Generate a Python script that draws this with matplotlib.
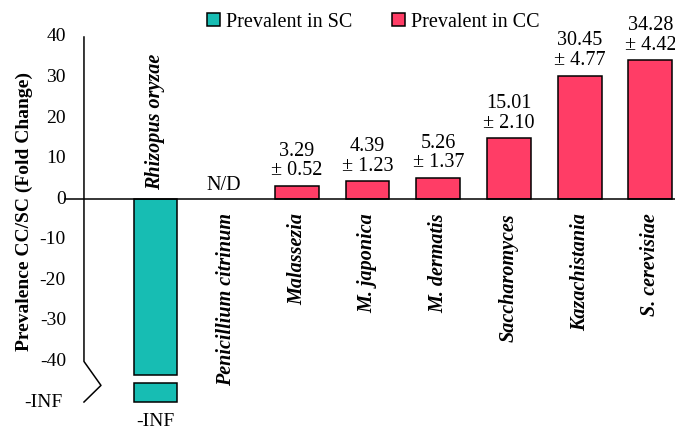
import numpy as np
import matplotlib
matplotlib.use("Agg")
import matplotlib.pyplot as plt
from matplotlib.patches import Patch
from matplotlib.lines import Line2D
import matplotlib.transforms as mtransforms

plt.rcParams['font.family'] = ['Liberation Serif', 'DejaVu Serif']

# Fold change of prevalence (CC/SC) per taxon
taxa = ["Rhizopus oryzae", "Penicillium citrinum", "Malassezia", "M. japonica",
        "M. dermatis", "Saccharomyces", "Kazachistania", "S. cerevisiae"]
fold_change = [-np.inf, np.nan, 3.29, 4.39, 5.26, 15.01, 30.45, 34.28]
fold_sd = [np.nan, np.nan, 0.52, 1.23, 1.37, 2.10, 4.77, 4.42]

ytick_values = [40, 30, 20, 10, 0, -10, -20, -30, -40]
neg_inf_label = "-INF"
legend_labels = ["Prevalent in SC", "Prevalent in CC"]

teal = "#17BDB3"
pink = "#FF3D66"

# Axis geometry: the -INF level sits below -40 behind an axis break
INF_POS = -50.0
BREAK_HI, BREAK_LO = -43.4, -45.4

fig = plt.figure(figsize=(6.75, 4.33), dpi=100)
ax = fig.add_axes([0.1244, 0.0247, 0.8756, 0.9367])
ax.set_xlim(-1.011, 7.348)
ax.set_ylim(-55, 45)
ax.axis("off")

x = np.arange(len(taxa))
width = 0.62
edge_kw = dict(edgecolor="black", linewidth=1.1)

for xi, v, sd in zip(x, fold_change, fold_sd):
    if np.isnan(v):
        ax.annotate("N/D", (xi, 0), xytext=(-2, 3), textcoords="offset points",
                    ha="center", va="bottom", fontsize=14.5)
        continue
    if np.isinf(v):
        # broken bar running down to the -INF level
        ax.bar(xi, BREAK_HI, width=width, color=teal, **edge_kw)
        ax.bar(xi, INF_POS - BREAK_LO, bottom=BREAK_LO, width=width, color=teal, **edge_kw)
        ax.annotate(neg_inf_label, (xi, INF_POS), xytext=(0, -8), textcoords="offset points",
                    ha="center", va="top", fontsize=14)
        continue
    ax.bar(xi, v, width=width, color=pink, **edge_kw)
    ax.annotate(f"{v:.2f}\n\u00b1 {sd:.2f}", (xi, v), xytext=(0, 4), textcoords="offset points",
                ha="center", va="bottom", fontsize=14.5, linespacing=1.05)

# category names: above the baseline for negative bars, below for the rest
for xi, name, v in zip(x, taxa, fold_change):
    if v < 0:
        ax.annotate(name, (xi, 0), xytext=(0, 7), textcoords="offset points", rotation=90,
                    ha="center", va="bottom", fontsize=14.5, fontweight="bold", style="italic")
    else:
        ax.annotate(name, (xi, 0), xytext=(0, -10), textcoords="offset points", rotation=90,
                    ha="center", va="top", fontsize=14.5, fontweight="bold", style="italic")

# zero baseline, reaching slightly left of the vertical axis
blend = mtransforms.blended_transform_factory(ax.transAxes, ax.transData)
ax.add_line(Line2D([-19 / 591, 1.0], [0, 0], transform=blend, color="black",
                   linewidth=1.1, clip_on=False))

# vertical axis with a zig-zag break down to -INF
zig = 17 / 591
ax.add_line(Line2D([0, 0, zig, 0], [40, -40, (BREAK_HI + BREAK_LO) / 2 - 1.5, INF_POS],
                   transform=blend, color="black", linewidth=1.1, clip_on=False))

# y tick labels
for val in ytick_values:
    ax.text(-18 / 591, val, f"{val}", transform=blend, ha="right", va="center", fontsize=14)
ax.text(-21 / 591, INF_POS, neg_inf_label, transform=blend, ha="right", va="center", fontsize=14)

fig.text(0.036, 0.512, "Prevalence CC/SC (Fold Change)", rotation=90, ha="center", va="center",
         fontsize=14, fontweight="bold")

handles = [Patch(facecolor=teal, edgecolor="black", linewidth=1.1),
           Patch(facecolor=pink, edgecolor="black", linewidth=1.1)]
fig.legend(handles, legend_labels, loc="center", bbox_to_anchor=(0.553, 0.949), ncol=2,
           frameon=False, fontsize=14.5, handlelength=0.65, handleheight=0.65,
           handletextpad=0.3, columnspacing=2.0)

fig.savefig("out.png", dpi=100)
